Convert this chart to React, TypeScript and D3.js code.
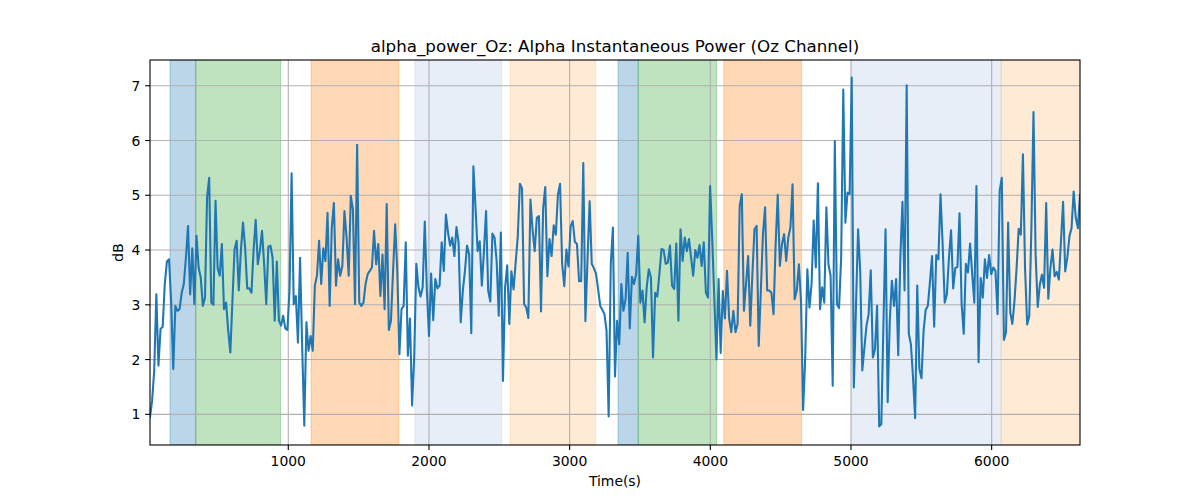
import React from "react";
import * as d3 from "d3";

// ---- data ----
const T_START = 17;
const T_END = 6628;

const alphaPower: number[] = [
  // 0..55
  0.95, 1.25, 1.8, 3.19, 1.89, 2.56, 2.6, 3.38, 3.79, 3.83, 3.07, 1.83, 2.98, 2.89, 2.92, 3.22,
  3.38, 3.86, 4.44, 3.19, 4.03, 3.01, 4.26, 3.68, 3.5, 2.98, 3.13, 4.96, 5.32, 3.04, 3.0, 4.9,
  3.67, 3.53, 4.11, 2.92, 3.04, 2.53, 2.13, 3.07, 4.01, 4.17, 3.26, 3.99, 4.5, 4.05, 3.3, 3.3,
  3.22, 3.99, 4.55, 3.74, 3.99, 4.35, 3.74, 3.01,
  // 56..111
  4.06, 4.08, 3.86, 2.71, 3.79, 2.71, 2.62, 2.8, 2.57, 2.54, 3.26, 5.4, 3.01, 3.16, 2.31, 3.86,
  2.22, 0.79, 2.68, 2.16, 2.43, 2.16, 3.35, 3.53, 4.17, 3.38, 4.03, 3.8, 4.68, 2.98, 4.41, 4.86,
  3.35, 3.83, 3.53, 3.71, 4.71, 4.23, 3.53, 4.99, 4.74, 3.01, 5.92, 3.04, 2.98, 3.04, 3.38, 3.56,
  3.62, 3.68, 4.35, 3.74, 4.11, 3.16, 3.92, 2.92,
  // 112..166
  4.84, 2.54, 2.71, 3.62, 4.47, 3.62, 2.1, 2.92, 2.98, 4.14, 2.07, 2.75, 1.16, 2.04, 3.75, 3.32,
  3.15, 3.32, 4.52, 3.26, 2.43, 3.57, 2.72, 3.47, 3.3, 3.35, 4.14, 3.62, 4.65, 4.32, 4.08, 4.23,
  3.89, 4.42, 4.14, 2.68, 3.26, 3.62, 4.08, 3.92, 2.48, 5.53, 4.78, 3.98, 4.16, 3.35, 3.98, 4.71,
  3.26, 3.06, 4.3, 4.23, 3.8, 2.8, 4.32,
  // 167..221
  1.61, 3.32, 3.72, 2.65, 3.61, 3.28, 3.77, 4.25, 5.21, 5.13, 3.01, 2.95, 2.76, 4.92, 4.37, 3.98,
  4.59, 4.62, 2.88, 4.76, 5.15, 3.52, 4.2, 3.89, 4.45, 4.28, 5.01, 5.21, 3.74, 3.34, 4.01, 3.7,
  4.43, 4.53, 4.15, 4.11, 3.43, 3.43, 5.59, 2.7, 3.83, 4.89, 3.75, 3.67, 3.57, 3.29, 2.98, 2.91,
  2.83, 2.53, 0.96, 3.74, 4.41, 1.69, 2.71,
  // 222..277
  2.28, 3.38, 2.89, 3.1, 3.95, 2.57, 3.51, 3.38, 3.56, 4.26, 3.04, 3.26, 2.68, 3.32, 3.65, 3.5,
  2.04, 3.22, 3.15, 3.56, 4.02, 4.0, 3.75, 3.77, 4.08, 3.35, 3.29, 4.12, 2.71, 4.38, 3.8, 4.23,
  3.98, 4.2, 3.86, 3.53, 4.0, 3.86, 4.09, 3.71, 4.14, 3.22, 3.13, 5.17, 4.2, 3.1, 2.0, 3.47,
  2.12, 3.25, 2.75, 3.62, 2.75, 2.5, 2.89, 2.5,
  // 278..332
  2.65, 4.81, 5.02, 2.89, 3.38, 3.89, 2.62, 3.56, 4.38, 4.44, 2.25, 3.26, 4.29, 4.78, 3.26, 3.26,
  3.22, 2.83, 4.11, 5.01, 3.71, 4.11, 4.29, 3.8, 4.23, 4.41, 5.2, 3.1, 3.26, 3.74, 3.07, 1.08,
  2.04, 3.65, 2.95, 3.38, 4.54, 3.68, 5.22, 2.92, 3.32, 3.04, 4.78, 3.74, 3.53, 1.52, 5.99, 3.01,
  2.94, 3.86, 6.93, 4.5, 5.05, 5.02, 7.15,
  // 333..388
  1.49, 2.95, 4.38, 3.62, 1.8, 2.22, 2.62, 2.83, 3.63, 2.04, 2.19, 2.98, 0.78, 0.82, 2.65, 4.38,
  1.22, 2.71, 3.44, 2.98, 3.47, 2.08, 3.86, 4.88, 3.26, 7.01, 2.47, 2.28, 1.67, 0.93, 3.35, 1.83,
  1.66, 2.53, 2.91, 2.98, 3.41, 3.89, 2.6, 3.91, 3.83, 5.02, 4.11, 3.04, 3.19, 3.86, 4.36, 3.3,
  3.67, 3.69, 4.67, 3.01, 2.47, 3.75, 3.59, 4.12,
  // 389..440
  3.56, 3.04, 5.17, 1.95, 3.49, 3.13, 3.83, 3.49, 3.91, 3.56, 3.68, 3.62, 2.83, 5.08, 5.32, 2.36,
  2.5, 4.5, 2.86, 2.65, 3.07, 3.67, 4.39, 4.28, 5.75, 3.67, 2.64, 2.79, 4.4, 6.52, 3.92, 2.96,
  3.37, 3.55, 3.31, 4.86, 3.11, 3.67, 4.01, 3.52, 3.6, 3.46, 4.16, 4.88, 3.61, 3.86, 4.25, 4.4,
  5.07, 4.59, 4.4, 5.01,
];

const spanStarts = [159, 342, 1162, 1900, 2576, 3344, 3488, 4096, 5005, 6068];
const spanEnds = [342, 946, 1785, 2517, 3185, 3488, 4045, 4649, 6068, 6700];
const spanColors = ["#1f77b4", "#2ca02c", "#ff7f0e", "#aec7e8", "#ffbb78", "#1f77b4", "#2ca02c", "#ff7f0e", "#aec7e8", "#ffbb78"];

const xTicks = [1000, 2000, 3000, 4000, 5000, 6000];
const yTicks = [1, 2, 3, 4, 5, 6, 7];

const TITLE = "alpha_power_Oz: Alpha Instantaneous Power (Oz Channel)";
const X_LABEL = "Time(s)";
const Y_LABEL = "dB";

// ---- layout ----
const W = 1200;
const H = 500;
const L = 150;
const R = 1080;
const T = 60;
const B = 445;
const FONT = "'DejaVu Sans', sans-serif";

export default function App() {
  const n = alphaPower.length;
  const dt = (T_END - T_START) / (n - 1);
  const times = alphaPower.map((_, i) => T_START + i * dt);

  const x = d3.scaleLinear().domain([T_START, T_END]).range([L, R]);
  const y = d3.scaleLinear().domain([0.44, 7.47]).range([B, T]);

  const line = d3
    .line<number>()
    .x((_, i) => x(times[i]))
    .y((d) => y(d));

  return (
    <svg
      width={W}
      height={H}
      style={{ position: "absolute", left: 0, top: 0, background: "#fff" }}
      fontFamily={FONT}
    >
      <defs>
        <clipPath id="plotArea">
          <rect x={L} y={T} width={R - L} height={B - T} />
        </clipPath>
      </defs>
      <rect x={0} y={0} width={W} height={H} fill="#fff" />
      <g clipPath="url(#plotArea)">
        {spanStarts.map((s, i) => (
          <rect
            key={"span" + i}
            x={x(s)}
            y={T}
            width={x(spanEnds[i]) - x(s)}
            height={B - T}
            fill={spanColors[i]}
            fillOpacity={0.3}
            stroke={spanColors[i]}
            strokeOpacity={0.3}
            strokeWidth={1.1}
          />
        ))}
        {xTicks.map((t) => (
          <line key={"gx" + t} x1={x(t)} x2={x(t)} y1={T} y2={B} stroke="#b0b0b0" strokeWidth={1.1} />
        ))}
        {yTicks.map((t) => (
          <line key={"gy" + t} x1={L} x2={R} y1={y(t)} y2={y(t)} stroke="#b0b0b0" strokeWidth={1.1} />
        ))}
        <path d={line(alphaPower) || ""} fill="none" stroke="#1f77b4" strokeWidth={2.08} strokeLinejoin="round" strokeLinecap="square" />
      </g>
      <rect x={L} y={T} width={R - L} height={B - T} fill="none" stroke="#000" strokeWidth={1.1} />
      {xTicks.map((t) => (
        <g key={"tx" + t}>
          <line x1={x(t)} x2={x(t)} y1={B} y2={B + 4.9} stroke="#000" strokeWidth={1.1} />
          <text x={x(t)} y={B + 21} textAnchor="middle" fontSize={13.9} fill="#000">
            {t}
          </text>
        </g>
      ))}
      {yTicks.map((t) => (
        <g key={"ty" + t}>
          <line x1={L - 4.9} x2={L} y1={y(t)} y2={y(t)} stroke="#000" strokeWidth={1.1} />
          <text x={L - 9.7} y={y(t) + 5} textAnchor="end" fontSize={13.9} fill="#000">
            {t}
          </text>
        </g>
      ))}
      <text x={(L + R) / 2} y={52} textAnchor="middle" fontSize={16.7} fill="#000">
        {TITLE}
      </text>
      <text x={(L + R) / 2} y={486} textAnchor="middle" fontSize={13.9} fill="#000">
        {X_LABEL}
      </text>
      <text
        transform={`translate(${123},${(T + B) / 2}) rotate(-90)`}
        textAnchor="middle"
        fontSize={13.9}
        fill="#000"
      >
        {Y_LABEL}
      </text>
    </svg>
  );
}
